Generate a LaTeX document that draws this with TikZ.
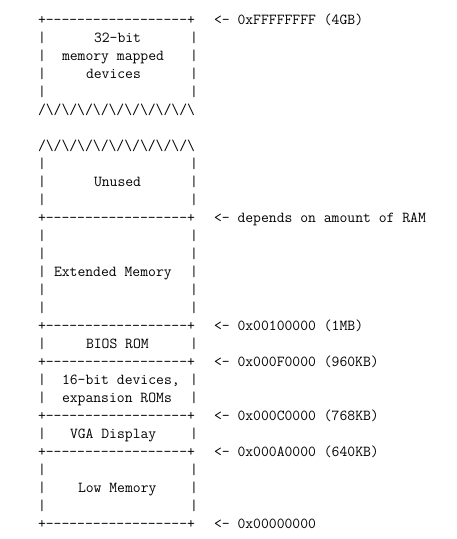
\documentclass[tikz,border=0pt]{standalone}
\usepackage{fontspec}
\newcommand\dsh{\mbox{-}}
\newcommand\dashrow{+\dsh\dsh\dsh\dsh\dsh\dsh\dsh\dsh\dsh\dsh\dsh\dsh\dsh\dsh\dsh\dsh\dsh\dsh+}
\newcommand\zz{/\textbackslash}
\newcommand\zigrow{\zz\zz\zz\zz\zz\zz\zz\zz\zz\zz}
\begin{document}
\begin{tikzpicture}[x=1pt,y=-1pt,
  tt/.style={anchor=base west, inner sep=0pt, outer sep=0pt,
    font=\ttfamily\fontsize{15.24pt}{18pt}\selectfont, text=black}]
\useasboundingbox (0,0) rectangle (457,539);
\fill[white] (0,0) rectangle (457,539);
% side bars of the boxes
\foreach \r in {2,3,4,5,9,10,11,13,14,15,16,17,19,21,22,24,26,27,28} {
  \node[tt] (lbar\r) at (38,{24.8+18*(\r-1)}) {|};
  \node[tt] (rbar\r) at (190,{24.8+18*(\r-1)}) {|};
}
% boundary rows with address labels
\foreach \r/\lab in {1/{0xFFFFFFFF (4GB)}, 12/{depends on amount of RAM},
  18/{0x00100000 (1MB)}, 20/{0x000F0000 (960KB)}, 23/{0x000C0000 (768KB)},
  25/{0x000A0000 (640KB)}, 29/{0x00000000}} {
  \node[tt] (edge\r) at (38,{24.8+18*(\r-1)}) {\dashrow};
  \node[tt] (addr\r) at (214,{24.8+18*(\r-1)}) {<\dsh\ \lab};
}
% zigzag break
\node[tt] (zigA) at (38,114.8) {\zigrow};
\node[tt] (zigB) at (38,150.8) {\zigrow};
% region texts
\node[tt] (t32) at (94,42.8) {32-bit};
\node[tt] (tmm) at (62,60.8) {memory mapped};
\node[tt] (tdev) at (86,78.8) {devices};
\node[tt] (tun) at (94,186.8) {Unused};
\node[tt] (text) at (54,276.8) {Extended Memory};
\node[tt] (tbios) at (86,348.8) {BIOS ROM};
\node[tt] (t16) at (62,384.8) {16-bit devices,};
\node[tt] (texp) at (62,402.8) {expansion ROMs};
\node[tt] (tvga) at (70,438.8) {VGA Display};
\node[tt] (tlow) at (78,492.8) {Low Memory};
\end{tikzpicture}
\end{document}
